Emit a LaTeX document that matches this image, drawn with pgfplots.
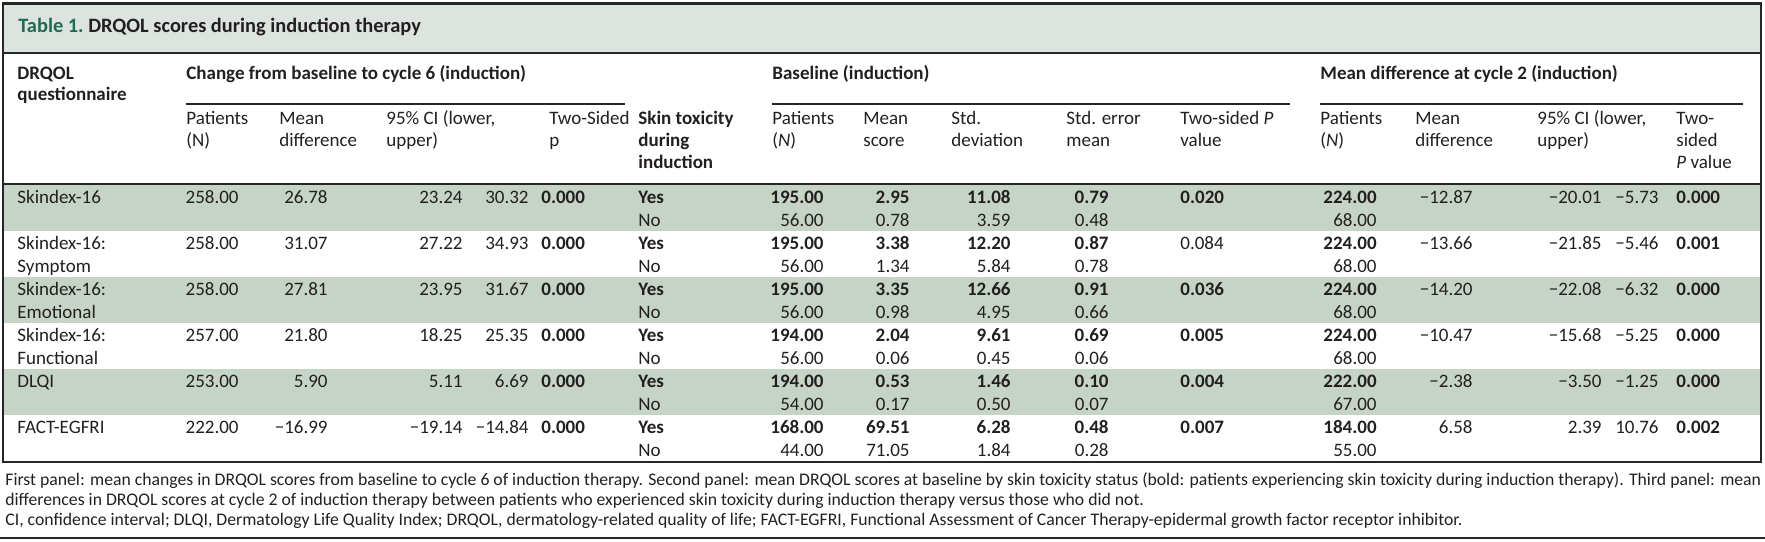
\documentclass[border=0pt]{standalone}
\usepackage{pgfplots}
\pgfplotsset{compat=1.18}
\usepackage{pgfplotstable}
\usepackage{fontspec}
\setmainfont{Carlito}
\definecolor{txt}{HTML}{231F20}
\definecolor{ttl}{HTML}{1F6B55}
\definecolor{band}{HTML}{C5D4C7}
\definecolor{tband}{HTML}{DDE4DF}
\definecolor{rulec}{HTML}{262626}
\newcommand\fs{\fontsize{9.5pt}{11pt}\selectfont}
\newcommand\fn{\fontsize{8.85pt}{10pt}\selectfont}
\newcommand\ft{\fontsize{10.2pt}{12pt}\selectfont}

% Panel 1: change from baseline to cycle 6
\pgfplotstableread{
r N MD lo hi p
0 258.00 26.78 23.24 30.32 0.000
1 258.00 31.07 27.22 34.93 0.000
2 258.00 27.81 23.95 31.67 0.000
3 257.00 21.80 18.25 25.35 0.000
4 253.00 5.90 5.11 6.69 0.000
5 222.00 −16.99 −19.14 −14.84 0.000
}\change
% Panel 2: baseline, skin toxicity yes
\pgfplotstableread{
r N M SD SE pb pr
0 195.00 2.95 11.08 0.79 0.020 {}
1 195.00 3.38 12.20 0.87 {} 0.084
2 195.00 3.35 12.66 0.91 0.036 {}
3 194.00 2.04 9.61 0.69 0.005 {}
4 194.00 0.53 1.46 0.10 0.004 {}
5 168.00 69.51 6.28 0.48 0.007 {}
}\baseyes
% Panel 2: baseline, skin toxicity no
\pgfplotstableread{
r N M SD SE
0 56.00 0.78 3.59 0.48
1 56.00 1.34 5.84 0.78
2 56.00 0.98 4.95 0.66
3 56.00 0.06 0.45 0.06
4 54.00 0.17 0.50 0.07
5 44.00 71.05 1.84 0.28
}\baseno
% Panel 3: mean difference at cycle 2
\pgfplotstableread{
r Ny Nn MD lo hi p
0 224.00 68.00 −12.87 −20.01 −5.73 0.000
1 224.00 68.00 −13.66 −21.85 −5.46 0.001
2 224.00 68.00 −14.20 −22.08 −6.32 0.000
3 224.00 68.00 −10.47 −15.68 −5.25 0.000
4 222.00 67.00 −2.38 −3.50 −1.25 0.000
5 184.00 55.00 6.58 2.39 10.76 0.002
}\mdiff

\pgfplotsset{
  valR/.style={draw=none, mark=none, nodes near coords, point meta=explicit symbolic,
    every node near coord/.append style={anchor=mid east, inner sep=0pt, text=txt, font=\fs}},
  valL/.style={draw=none, mark=none, nodes near coords, point meta=explicit symbolic,
    every node near coord/.append style={anchor=mid west, inner sep=0pt, text=txt, font=\fs}},
  bld/.style={every node near coord/.append style={font=\fs\bfseries}},
}
\newcommand\T[3]{\node[anchor=mid west, inner sep=0pt, text=txt, font=\fs] at (axis cs:#1,#2) {#3};}
\newcommand\B[3]{\node[anchor=mid west, inner sep=0pt, text=txt, font=\fs\bfseries] at (axis cs:#1,#2) {#3};}
\newcommand\F[3]{\node[anchor=mid west, inner sep=0pt, text=txt, font=\fn] at (axis cs:#1,#2) {#3};}

\begin{document}
\begin{tikzpicture}
\begin{axis}[scale only axis, width=882.5pt, height=270.5pt,
  xmin=0, xmax=1765, ymin=0, ymax=541, y dir=reverse,
  hide axis, clip=false]
% backgrounds
\fill[tband] (axis cs:3,4) rectangle (axis cs:1761,53);
\fill[band] (axis cs:3,185) rectangle (axis cs:1761,231);
\fill[band] (axis cs:3,277) rectangle (axis cs:1761,323);
\fill[band] (axis cs:3,369) rectangle (axis cs:1761,415);
% rules
\draw[rulec, line width=1.4pt] (axis cs:3,4) rectangle (axis cs:1761,462);
\draw[rulec, line width=1.2pt] (axis cs:3,53) -- (axis cs:1761,53);
\draw[rulec, line width=1.4pt] (axis cs:3,184) -- (axis cs:1761,184);
\draw[rulec, line width=0.9pt] (axis cs:186,104) -- (axis cs:625,104);
\draw[rulec, line width=0.9pt] (axis cs:772,104) -- (axis cs:1290,104);
\draw[rulec, line width=0.9pt] (axis cs:1320,104) -- (axis cs:1743,104);
\draw[rulec, line width=1.4pt] (axis cs:0,538) -- (axis cs:1765,538);
% title
\node[anchor=mid west, inner sep=0pt, font=\ft\bfseries] at (axis cs:18,28) {\textcolor{ttl}{Table 1.}\ \textcolor{txt}{DRQOL scores during induction therapy}};
% headers
\B{17}{75}{DRQOL}\B{17}{96}{questionnaire}
\B{186}{75}{Change from baseline to cycle 6 (induction)}
\B{772}{75}{Baseline (induction)}
\B{1320}{75}{Mean difference at cycle 2 (induction)}
\T{186}{120}{Patients}\T{186}{142}{(N)}
\T{279}{120}{Mean}\T{279}{142}{difference}
\T{386}{120}{95\% CI (lower,}\T{386}{142}{upper)}
\T{549}{120}{Two-Sided}\T{549}{142}{p}
\B{638}{120}{Skin toxicity}\B{638}{142}{during}\B{638}{164}{induction}
\T{772}{120}{Patients}\T{772}{142}{(\textit{N})}
\T{863}{120}{Mean}\T{863}{142}{score}
\T{951}{120}{Std.}\T{951}{142}{deviation}
\T{1066}{120}{Std. error}\T{1066}{142}{mean}
\T{1180}{120}{Two-sided \textit{P}}\T{1180}{142}{value}
\T{1320}{120}{Patients}\T{1320}{142}{(\textit{N})}
\T{1415}{120}{Mean}\T{1415}{142}{difference}
\T{1537}{120}{95\% CI (lower,}\T{1537}{142}{upper)}
\T{1676}{120}{Two-}\T{1676}{142}{sided}\T{1676}{164}{\textit{P} value}
% row labels
\T{17}{199}{Skindex-16}
\T{17}{245}{Skindex-16:}\T{17}{268}{Symptom}
\T{17}{291}{Skindex-16:}\T{17}{314}{Emotional}
\T{17}{337}{Skindex-16:}\T{17}{360}{Functional}
\T{17}{383}{DLQI}
\T{17}{429}{FACT-EGFRI}
% panel 1
\addplot[valR] table[x expr=239, y expr=\thisrow{r}*46+199, meta=N] {\change};
\addplot[valR] table[x expr=328, y expr=\thisrow{r}*46+199, meta=MD] {\change};
\addplot[valR] table[x expr=463, y expr=\thisrow{r}*46+199, meta=lo] {\change};
\addplot[valR] table[x expr=529, y expr=\thisrow{r}*46+199, meta=hi] {\change};
\addplot[valL,bld] table[x expr=541, y expr=\thisrow{r}*46+199, meta=p] {\change};
% panel 2
\addplot[valR,bld] table[x expr=824, y expr=\thisrow{r}*46+199, meta=N] {\baseyes};
\addplot[valR,bld] table[x expr=910, y expr=\thisrow{r}*46+199, meta=M] {\baseyes};
\addplot[valR,bld] table[x expr=1011, y expr=\thisrow{r}*46+199, meta=SD] {\baseyes};
\addplot[valR,bld] table[x expr=1109, y expr=\thisrow{r}*46+199, meta=SE] {\baseyes};
\addplot[valL,bld] table[x expr=1180, y expr=\thisrow{r}*46+199, meta=pb] {\baseyes};
\addplot[valL] table[x expr=1180, y expr=\thisrow{r}*46+199, meta=pr] {\baseyes};
\addplot[valR] table[x expr=824, y expr=\thisrow{r}*46+222, meta=N] {\baseno};
\addplot[valR] table[x expr=910, y expr=\thisrow{r}*46+222, meta=M] {\baseno};
\addplot[valR] table[x expr=1011, y expr=\thisrow{r}*46+222, meta=SD] {\baseno};
\addplot[valR] table[x expr=1109, y expr=\thisrow{r}*46+222, meta=SE] {\baseno};
% panel 3
\addplot[valR,bld] table[x expr=1377, y expr=\thisrow{r}*46+199, meta=Ny] {\mdiff};
\addplot[valR] table[x expr=1377, y expr=\thisrow{r}*46+222, meta=Nn] {\mdiff};
\addplot[valR] table[x expr=1473, y expr=\thisrow{r}*46+199, meta=MD] {\mdiff};
\addplot[valR] table[x expr=1602, y expr=\thisrow{r}*46+199, meta=lo] {\mdiff};
\addplot[valR] table[x expr=1659, y expr=\thisrow{r}*46+199, meta=hi] {\mdiff};
\addplot[valL,bld] table[x expr=1676, y expr=\thisrow{r}*46+199, meta=p] {\mdiff};
% yes / no labels
\foreach \k in {0,...,5}{
  \pgfmathsetmacro\ya{\k*46+199}\pgfmathsetmacro\yb{\k*46+222}
  \edef\tmp{\noexpand\B{638}{\ya}{Yes}\noexpand\T{638}{\yb}{No}}\tmp
}
% footnotes
\F{5}{481}{First panel: mean changes in DRQOL scores from baseline to cycle 6 of induction therapy. Second panel: mean DRQOL scores at baseline by skin toxicity status (bold: patients experiencing skin toxicity during induction therapy). Third panel: mean}
\F{5}{501}{differences in DRQOL scores at cycle 2 of induction therapy between patients who experienced skin toxicity during induction therapy versus those who did not.}
\F{5}{521}{CI, confidence interval; DLQI, Dermatology Life Quality Index; DRQOL, dermatology-related quality of life; FACT-EGFRI, Functional Assessment of Cancer Therapy-epidermal growth factor receptor inhibitor.}
\end{axis}
\pgfresetboundingbox
\path (0,0) rectangle (882.5pt,270.5pt);
\end{tikzpicture}
\end{document}
